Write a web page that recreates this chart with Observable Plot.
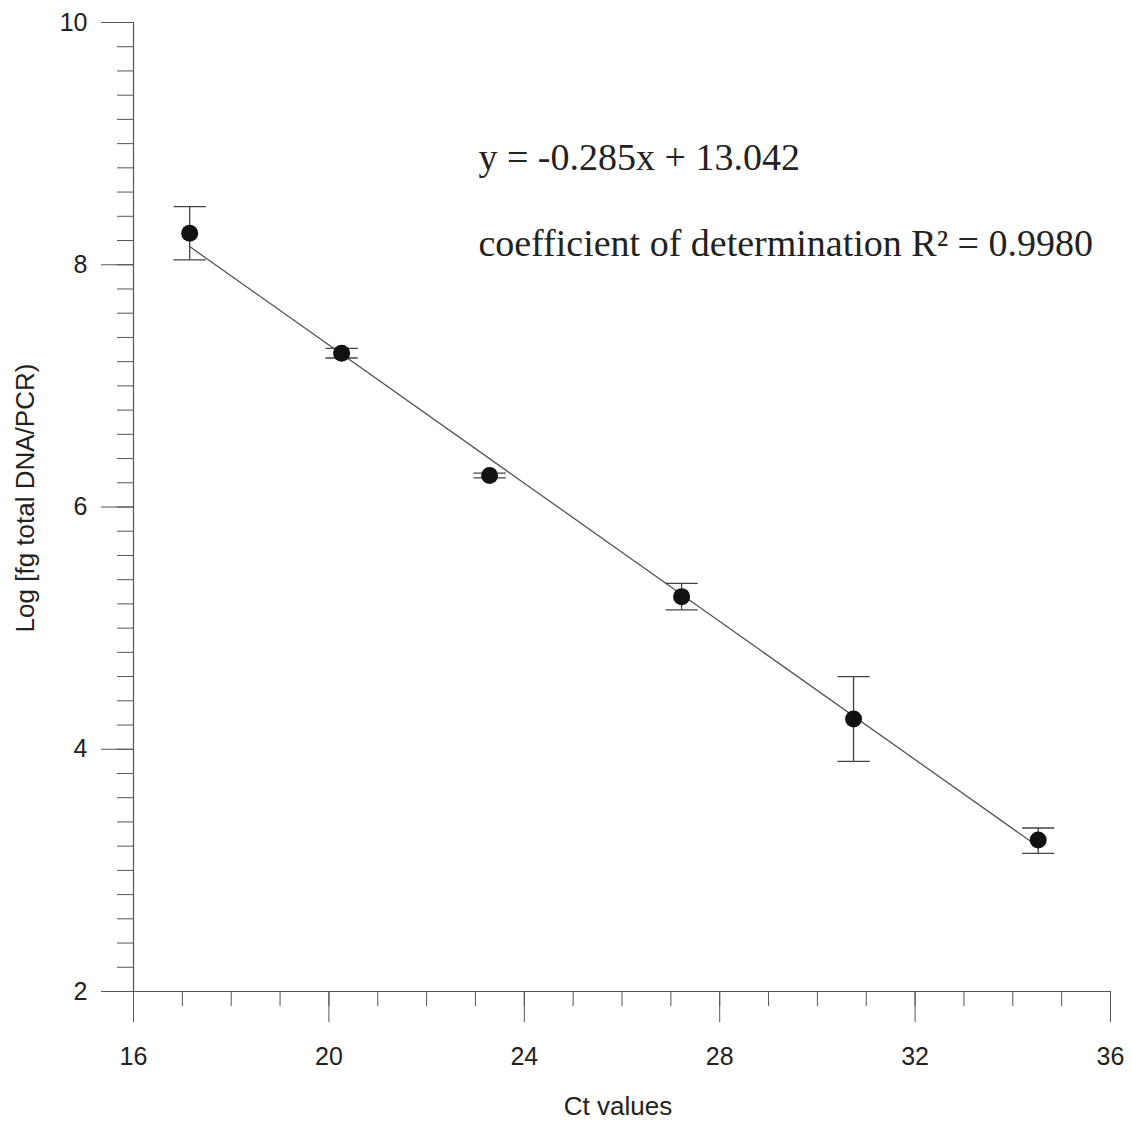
<!DOCTYPE html>
<html>
<head>
<meta charset="utf-8">
<script src="https://cdn.jsdelivr.net/npm/d3@7"></script>
<script src="https://cdn.jsdelivr.net/npm/@observablehq/plot@0.6"></script>
<style>
  html, body { margin: 0; padding: 0; background: #fff; }
  #chart svg { display: block; }
</style>
</head>
<body>
<div id="chart"></div>
<script>
// Data
const ctValues   = [17.15, 20.26, 23.29, 27.22, 30.74, 34.52];
const logDNA     = [8.26, 7.27, 6.26, 5.26, 4.25, 3.25];
const errLow     = [8.04, 7.23, 6.24, 5.15, 3.90, 3.14];
const errHigh    = [8.48, 7.31, 6.28, 5.37, 4.60, 3.35];
const fitX       = [17.15, 34.40];
const fitY       = [8.15, 3.23];
const xMajorTicks = [16, 20, 24, 28, 32, 36];
const xMinorTicks = d3.range(16, 36.5, 1);
const yMajorTicks = [2, 4, 6, 8, 10];
const yMinorTicks = d3.range(2, 10.01, 0.2).map(v => +v.toFixed(1));
const equationText = "y = -0.285x + 13.042";
const r2Text = "coefficient of determination R\u00B2 = 0.9980";
const xLabel = "Ct values";
const yLabel = "Log [fg total DNA/PCR)";

const points = ctValues.map((x, i) => ({x, y: logDNA[i], lo: errLow[i], hi: errHigh[i]}));
const fit = fitX.map((x, i) => ({x, y: fitY[i]}));
const capHalf = 0.33;

const axisColor = "#555";
const sans = "'Liberation Sans', Arial, sans-serif";
const serif = "'Liberation Serif', 'Times New Roman', serif";

const chart = Plot.plot({
  width: 1132,
  height: 1133,
  marginLeft: 133,
  marginRight: 22,
  marginTop: 22,
  marginBottom: 142,
  style: {fontFamily: sans, color: "#222", background: "#fff"},
  x: {domain: [16, 36]},
  y: {domain: [2, 10]},
  marks: [
    // axis lines
    Plot.ruleX([16], {y1: 2, y2: 10, stroke: axisColor, strokeWidth: 1.2}),
    Plot.ruleY([2], {x1: 16, x2: 36, stroke: axisColor, strokeWidth: 1.2}),
    // y axis
    Plot.axisY({ticks: yMinorTicks, tickSize: 16, tickFormat: () => "", stroke: axisColor, label: null}),
    Plot.axisY({ticks: yMajorTicks, tickSize: 32, tickPadding: 14, fontSize: 25, stroke: axisColor, label: null, tickFormat: d3.format("d")}),
    // x axis
    Plot.axisX({ticks: xMinorTicks, tickSize: 15, tickFormat: () => "", stroke: axisColor, label: null}),
    Plot.axisX({ticks: xMajorTicks, tickSize: 31, tickPadding: 25, fontSize: 25, stroke: axisColor, label: null, tickFormat: d3.format("d")}),
    // axis titles
    Plot.text([yLabel], {frameAnchor: "left", textAnchor: "middle", rotate: -90, dx: -108, dy: -9, fontSize: 26, fill: "#222", text: d => d}),
    Plot.text([xLabel], {frameAnchor: "bottom", dy: 123, dx: -4, fontSize: 26, fill: "#222", text: d => d}),
    // fit line
    Plot.line(fit, {x: "x", y: "y", stroke: "#555", strokeWidth: 1.3}),
    // error bars
    Plot.ruleX(points, {x: "x", y1: "lo", y2: "hi", stroke: "#444", strokeWidth: 1.3}),
    Plot.link(points, {x1: d => d.x - capHalf, x2: d => d.x + capHalf, y1: "hi", y2: "hi", stroke: "#444", strokeWidth: 1.3}),
    Plot.link(points, {x1: d => d.x - capHalf, x2: d => d.x + capHalf, y1: "lo", y2: "lo", stroke: "#444", strokeWidth: 1.3}),
    // points
    Plot.dot(points, {x: "x", y: "y", r: 8.5, fill: "#111", stroke: "none"}),
    // annotations
    Plot.text([equationText], {x: 23.06, y: 8.885, text: d => d, textAnchor: "start", fontFamily: serif, fontSize: 38, fill: "#222"}),
    Plot.text([r2Text], {x: 23.06, y: 8.175, text: d => d, textAnchor: "start", fontFamily: serif, fontSize: 38, fill: "#222"})
  ]
});
document.getElementById("chart").appendChild(chart);
</script>
</body>
</html>
